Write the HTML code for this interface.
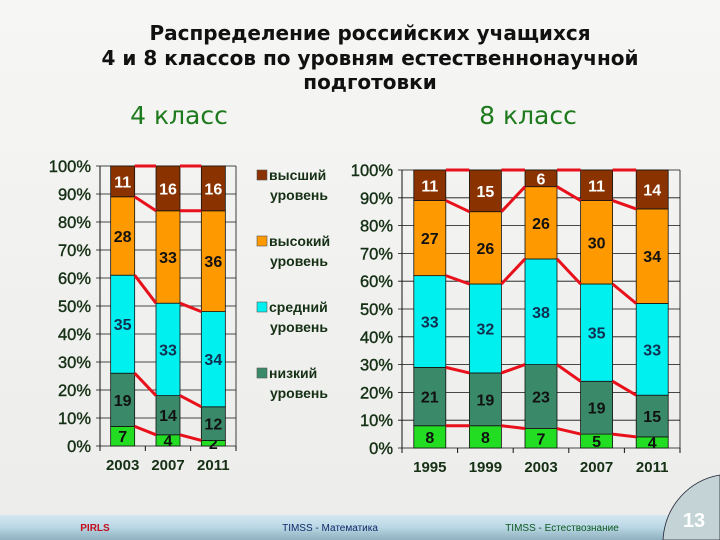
<!DOCTYPE html>
<html><head><meta charset="utf-8"><style>
body{margin:0;width:720px;height:540px;overflow:hidden;background:#f0f0ee;font-family:"Liberation Sans",sans-serif}
svg{position:absolute;left:0;top:0}
</style></head><body>
<svg id="s" width="720" height="540">
<defs>
<linearGradient id="bg" x1="0" y1="0" x2="0" y2="1"><stop offset="0" stop-color="#f6f6f4"/><stop offset="1" stop-color="#ececea"/></linearGradient>
<linearGradient id="ft" x1="0" y1="0" x2="0" y2="1"><stop offset="0" stop-color="#d4e8f2"/><stop offset="0.5" stop-color="#b9d6e4"/><stop offset="1" stop-color="#8fb0bf"/></linearGradient>
</defs>
<rect width="720" height="540" fill="url(#bg)"/>
<g font-family="'DejaVu Sans',sans-serif" font-weight="bold" font-size="20" text-anchor="middle" fill="#111">
<text x="370" y="40">Распределение российских учащихся</text>
<text x="370" y="65">4 и 8 классов по уровням естественнонаучной</text>
<text x="370" y="89">подготовки</text>
</g>
<text x="179" y="124" text-anchor="middle" font-family="'DejaVu Sans',sans-serif" font-size="25" fill="#1d7a1d">4 класс</text>
<text x="528" y="124" text-anchor="middle" font-family="'DejaVu Sans',sans-serif" font-size="25" fill="#1d7a1d">8 класс</text>
<g id="left"></g>
<g id="right"></g>
<g id="legend"></g>
<rect x="0" y="515" width="720" height="25" fill="url(#ft)"/>
<text x="95" y="531" text-anchor="middle" font-size="10" fill="#c01020" font-weight="bold">PIRLS</text>
<text x="330" y="531" text-anchor="middle" font-size="10" fill="#102a6a">TIMSS - Математика</text>
<text x="562" y="531" text-anchor="middle" font-size="10" fill="#0a5a20">TIMSS - Естествознание</text>
<path d="M663,540 C665,505 690,480 720,475 L720,540 Z" fill="#c3d3d6" stroke="#223" stroke-width="0.8"/>
<text x="694" y="527" text-anchor="middle" font-size="20" font-weight="bold" fill="#fff">13</text>
</svg>
<script>
const levels=['низкий','средний','высокий','высший'];
const colors=['#22dd22','#3a8a6a','#00f0f0','#ff9900','#8b3300'];
const leftCats=['2003','2007','2011'];
const leftBasic=[7,4,2];
const leftLow=[19,14,12];
const leftMid=[35,33,34];
const leftHigh=[28,33,36];
const leftTop=[11,16,16];
const rightCats=['1995','1999','2003','2007','2011'];
const rightBasic=[8,8,7,5,4];
const rightLow=[21,19,23,19,15];
const rightMid=[33,32,38,35,33];
const rightHigh=[27,26,26,30,34];
const rightTop=[11,15,6,11,14];
const yTicks=['0%','10%','20%','30%','40%','50%','60%','70%','80%','90%','100%'];
const NS='http://www.w3.org/2000/svg';
function mk(p,t,a){const e=document.createElementNS(NS,t);for(const k in a)e.setAttribute(k,a[k]);p.appendChild(e);return e;}
function chart(g,cats,series,x0,x1,y0,y1,barW,name){
  const n=cats.length,cw=(x1-x0)/n;
  const xc=i=>x0+cw*(i+0.5);
  const y=v=>y0-(y0-y1)*v/100;
  for(let i=0;i<yTicks.length;i++){
    const l=mk(g,'line',{x1:x0-4,x2:x1,y1:y(i*10),y2:y(i*10),stroke:'#111','stroke-width':0.8});
    
    
    const t=mk(g,'text',{x:x0-9,y:y(i*10)+6,'text-anchor':'end','font-size':16.5,fill:'#153015','stroke':'#153015','stroke-width':0.4});
    t.textContent=yTicks[i];
    
    
  }
  mk(g,'line',{x1:x0,x2:x0,y1:y1,y2:y0+5,stroke:'#111','stroke-width':1});
  mk(g,'line',{x1:x1,x2:x1,y1:y1,y2:y0,stroke:'#111','stroke-width':0.8});
  for(let i=0;i<=n;i++)mk(g,'line',{x1:x0+cw*i,x2:x0+cw*i,y1:y0,y2:y0+5,stroke:'#111','stroke-width':1});
  const bounds=[];
  for(let i=0;i<n;i++){
    const vals=series.map(s=>s[i]);const sum=vals.reduce((a,b)=>a+b,0);
    let acc=0;const b=[0];
    vals.forEach((v,k)=>{
      const p0=acc/sum*100,p1=(acc+v)/sum*100;acc+=v;b.push(p1);
      const r=mk(g,'rect',{x:xc(i)-barW/2,y:y(p1),width:barW,height:y(p0)-y(p1),fill:colors[k],stroke:'#111','stroke-width':0.8});
      
      
      const t=mk(g,'text',{x:xc(i),y:(y(p0)+y(p1))/2+6,'text-anchor':'middle','font-size':16,'font-weight':'bold',fill:k==4?'#fff':(k==2?'#103050':'#111')});
      t.textContent=v;
      
      
    });
    bounds.push(b);
  }
  for(let i=0;i<n-1;i++)for(let k=1;k<=5;k++){
    const l=mk(g,'line',{x1:xc(i)+barW/2,y1:y(bounds[i][k]),x2:xc(i+1)-barW/2,y2:y(bounds[i+1][k]),stroke:'#e8101a','stroke-width':3});
    
    
  }
  cats.forEach((c,i)=>{const t=mk(g,'text',{x:xc(i),y:y0+24,'text-anchor':'middle','font-size':15,'font-weight':'bold',fill:'#153015'});t.textContent=c;
    
    });
}
chart(document.getElementById('left'),leftCats,[leftBasic,leftLow,leftMid,leftHigh,leftTop],100,236,446,166,24,'left');
chart(document.getElementById('right'),rightCats,[rightBasic,rightLow,rightMid,rightHigh,rightTop],402,680,448,170,32,'right');
const lg=document.getElementById('legend');
const lgC=[colors[4],colors[3],colors[2],colors[1]];
const lgT=['высший','высокий','средний','низкий'];
lgT.forEach((t,i)=>{const yy=176+i*66;
  const r=mk(lg,'rect',{x:257,y:yy-6,width:10,height:10,fill:lgC[i],stroke:'#555','stroke-width':0.6});
  
  
  const a=mk(lg,'text',{x:269,y:yy+4,'font-size':14,'font-weight':'bold',fill:'#153015'});a.textContent=t;
  
  
  const b=mk(lg,'text',{x:270,y:yy+24,'font-size':14,'font-weight':'bold',fill:'#153015'});b.textContent='уровень';
  
  
});
</script>
</body></html>
